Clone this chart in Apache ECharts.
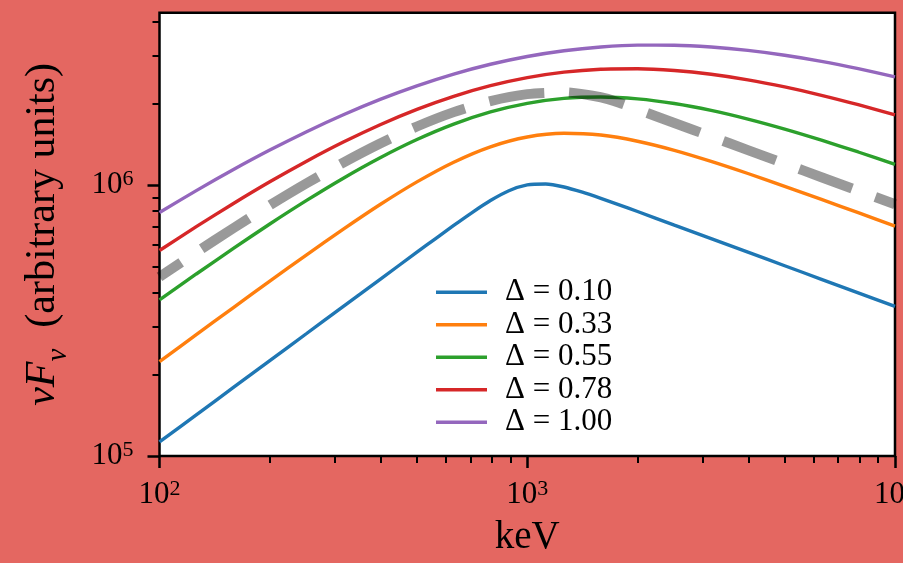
<!DOCTYPE html>
<html>
<head>
<meta charset="utf-8">
<script src="https://cdn.jsdelivr.net/npm/echarts@6/dist/echarts.min.js"></script>
<style>
html,body{margin:0;padding:0;background:#e46761;}
#chart{width:903px;height:563px;}
</style>
</head>
<body>
<div id="chart"></div>
<script>
// ---- data ----
const legendLabels = ['Δ = 0.10', 'Δ = 0.33', 'Δ = 0.55', 'Δ = 0.78', 'Δ = 1.00'];
const colors = ['#1f77b4', '#ff7f0e', '#2ca02c', '#d62728', '#9467bd'];

const energyGrid = [100,125.9,158.5,199.5,251.2,316.2,398.1,501.2,631.0,794.3,1000,1258.9,1584.9,1995.3,2511.9,3162.3,3981.1,5011.9,6309.6,7943.3,10000];

const blueEnergy = [100,125.9,158.5,199.5,251.2,316.2,398.1,501.2,562.3,631.0,707.9,794.3,891.3,1000,1122.0,1258.9,1412.5,1584.9,1778.3,1995.3,2511.9,3162.3,3981.1,5011.9,6309.6,7943.3,10000];
const blueFlux = [1.127e5,1.419e5,1.786e5,2.249e5,2.831e5,3.565e5,4.487e5,5.647e5,6.33e5,7.09e5,7.91e5,8.76e5,9.52e5,1.000e6,1.008e6,9.83e5,9.40e5,8.92e5,8.44e5,7.98e5,7.11e5,6.34e5,5.65e5,5.035e5,4.487e5,4.00e5,3.565e5];

const orangeFlux = [2.229e5,2.803e5,3.521e5,4.417e5,5.524e5,6.869e5,8.467e5,1.0264e6,1.2136e6,1.3831e6,1.5031e6,1.5516e6,1.528e6,1.4497e6,1.3418e6,1.2215e6,1.1021e6,9.888e5,8.845e5,7.899e5,7.05e5];
const greenFlux = [3.769e5,4.694e5,5.821e5,7.176e5,8.768e5,1.059e6,1.2598e6,1.4704e6,1.6763e6,1.859e6,2.000e6,2.0856e6,2.1102e6,2.0769e6,1.9971e6,1.8831e6,1.749e6,1.6064e6,1.4622e6,1.3231e6,1.192e6];
const redFlux = [5.73e5,7.015e5,8.527e5,1.0271e6,1.2237e6,1.4396e6,1.6683e6,1.9006e6,2.1232e6,2.3236e6,2.4889e6,2.6073e6,2.673e6,2.6841e6,2.6438e6,2.56e6,2.442e6,2.2991e6,2.1418e6,1.977e6,1.8119e6];
const purpleFlux = [7.917e5,9.531e5,1.1376e6,1.3446e6,1.572e6,1.8153e6,2.0683e6,2.3209e6,2.5654e6,2.7876e6,2.9785e6,3.1282e6,3.2293e6,3.2795e6,3.2773e6,3.228e6,3.1361e6,3.0097e6,2.8576e6,2.6859e6,2.5046e6];

const grayEnergy = [100,125.9,158.5,199.5,251.2,316.2,398.1,501.2,631.0,794.3,1000,1258.9,1584.9,1778.3,1995.3,2511.9,3162.3,3981.1,5011.9,6309.6,7943.3,10000];
const grayFlux = [4.58e5,5.643e5,6.915e5,8.414e5,1.0144e6,1.2094e6,1.4223e6,1.643e6,1.8563e6,2.0398e6,2.1637e6,2.1954e6,2.1062e6,2.0119e6,1.8993e6,1.6927e6,1.5087e6,1.3446e6,1.1984e6,1.0681e6,9.519e5,8.484e5];

const xMajorTicks = [100, 1000, 10000];
const xMinorTicks = [200,300,400,500,600,700,800,900,2000,3000,4000,5000,6000,7000,8000,9000];
const yMajorTicks = [1e5, 1e6];
const yMinorTicks = [2e5,3e5,4e5,5e5,6e5,7e5,8e5,9e5,2e6,3e6,4e6];

const xMin = 100, xMax = 10000, yMin = 1e5, yMax = 4.32e6;

// ---- chart ----
const zip = (xs, ys) => xs.map((x, i) => [x, ys[i]]);
const FONT = 'Liberation Serif';

const powLabel = v => '{b|10}{s|' + Math.round(Math.log10(v)) + '}';
const richPow = {
  b: {fontFamily: FONT, fontSize: 31, color: '#000', lineHeight: 34},
  s: {fontFamily: FONT, fontSize: 22, color: '#000', verticalAlign: 'top', lineHeight: 24}
};

const chart = echarts.init(document.getElementById('chart'), null, {renderer: 'canvas'});

const colouredSeries = [
  zip(blueEnergy, blueFlux),
  zip(energyGrid, orangeFlux),
  zip(energyGrid, greenFlux),
  zip(energyGrid, redFlux),
  zip(energyGrid, purpleFlux)
].map((d, i) => ({
  name: legendLabels[i],
  type: 'line',
  xAxisIndex: 0, yAxisIndex: 0,
  data: d,
  smooth: 0.25,
  symbol: 'none',
  color: colors[i],
  lineStyle: {width: 3.4, color: colors[i]},
  z: 3
}));

const option = {
  backgroundColor: '#e46761',
  animation: false,
  grid: {
    left: 159.5, right: 8, top: 12.7, bottom: 107,
    outerBoundsMode: 'none', containLabel: false,
    show: true, backgroundColor: '#ffffff', borderColor: '#000', borderWidth: 2.5
  },
  legend: {
    data: legendLabels,
    orient: 'vertical',
    left: 436, top: 276, padding: 0,
    itemWidth: 51, itemHeight: 3.4, itemGap: 0,
    icon: 'rect',
    textStyle: {fontFamily: FONT, fontSize: 31, color: '#000', lineHeight: 32.5, padding: [0, 0, 0, 13]}
  },
  xAxis: [
    {
      type: 'log', logBase: 10, min: xMin, max: xMax, gridIndex: 0,
      name: 'keV', nameLocation: 'middle', nameGap: 62,
      nameTextStyle: {fontFamily: FONT, fontSize: 39, color: '#000'},
      axisLine: {show: false},
      axisTick: {show: true, length: 12, lineStyle: {color: '#000', width: 2.5}, customValues: xMajorTicks},
      axisLabel: {margin: 22, formatter: powLabel, rich: richPow, customValues: xMajorTicks},
      splitLine: {show: false}
    },
    {
      type: 'log', logBase: 10, min: xMin, max: xMax, gridIndex: 0, position: 'bottom',
      axisLine: {show: false},
      axisTick: {show: true, length: 7, lineStyle: {color: '#000', width: 2}, customValues: xMinorTicks},
      axisLabel: {show: false},
      splitLine: {show: false}
    }
  ],
  yAxis: [
    {
      type: 'log', logBase: 10, min: yMin, max: yMax, gridIndex: 0,
      name: '{i|νF}{sub|ν}{n|  (arbitrary units)}', nameLocation: 'middle', nameGap: 96, nameRotate: 90,
      nameTextStyle: {
        fontFamily: FONT, fontSize: 42, color: '#000',
        rich: {
          i: {fontFamily: FONT, fontStyle: 'italic', fontSize: 42, color: '#000'},
          sub: {fontFamily: FONT, fontStyle: 'italic', fontSize: 29, color: '#000', verticalAlign: 'bottom', padding: [0, 0, -9, 0]},
          n: {fontFamily: FONT, fontSize: 42, color: '#000'}
        }
      },
      axisLine: {show: false},
      axisTick: {show: true, length: 12, lineStyle: {color: '#000', width: 2.5}, customValues: yMajorTicks},
      axisLabel: {margin: 26, formatter: powLabel, rich: richPow, customValues: yMajorTicks},
      splitLine: {show: false}
    },
    {
      type: 'log', logBase: 10, min: yMin, max: yMax, gridIndex: 0, position: 'left',
      axisLine: {show: false},
      axisTick: {show: true, length: 7, lineStyle: {color: '#000', width: 2}, customValues: yMinorTicks},
      axisLabel: {show: false},
      splitLine: {show: false}
    }
  ],
  series: colouredSeries.concat([{
    name: 'model',
    type: 'line',
    xAxisIndex: 0, yAxisIndex: 0,
    data: zip(grayEnergy, grayFlux),
    smooth: 0.25,
    symbol: 'none',
    lineStyle: {width: 10, color: 'rgba(0,0,0,0.4)', type: [56, 25], dashOffset: 30, cap: 'butt'},
    z: 4
  }])
};
chart.setOption(option);
</script>
</body>
</html>
